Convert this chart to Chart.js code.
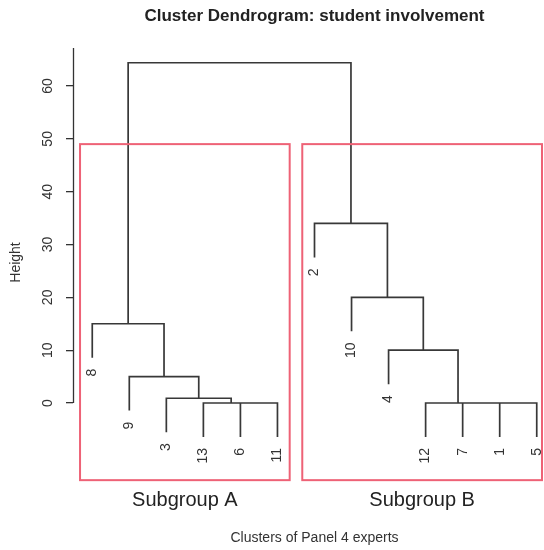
<!DOCTYPE html>
<html><head><meta charset="utf-8">
<script src="https://cdn.jsdelivr.net/npm/chart.js@4"></script>
<style>html,body{margin:0;padding:0;background:#fff;overflow:hidden}
#wrap{width:544px;height:550px;overflow:hidden;position:relative;background:#fff}
canvas{display:block}</style></head><body>
<div id="wrap"><canvas id="c" width="556" height="550"></canvas></div>
<script>
// ---- data ----
const leafLabels  = ['8','9','3','13','6','11','2','10','4','12','7','1','5'];
// R-style merge matrix: negative = leaf (by label), positive = earlier merge step
const mergeLeft   = [-6, -13, -1, -7, -12, -3, -9, -4, -8, -10, -2, 9];
const mergeRight  = [-11,  1, -5,  3,   4,  2,  6,  5,  7,   8, 10, 11];
const mergeHeight = [0, 0, 0, 0, 0, 0.9, 5, 10, 15, 20, 34, 64.4];
const yTickValues = [0, 10, 20, 30, 40, 50, 60];
const groupNames  = ['Subgroup A', 'Subgroup B'];
const groupLeaves = [['8','9','3','13','6','11'], ['2','10','4','12','7','1','5']];

// ---- build dendrogram segments from the merge data ----
const hang = 0.1 * Math.max(...mergeHeight);
const xOf = id => leafLabels.indexOf(String(id)) + 1;
const nodeX = [], nodeH = [], leafBottom = {};
const pts = [];
function child(c, h) {
  if (c < 0) { leafBottom[-c] = h - hang; return {x: xOf(-c), y: h - hang}; }
  return {x: nodeX[c - 1], y: nodeH[c - 1]};
}
mergeLeft.forEach((l, i) => {
  const h = mergeHeight[i];
  const a = child(l, h), b = child(mergeRight[i], h);
  nodeX[i] = (a.x + b.x) / 2; nodeH[i] = h;
  pts.push({x: a.x, y: a.y}, {x: a.x, y: h}, {x: b.x, y: h}, {x: b.x, y: b.y}, {x: b.x, y: null});
});

const FONT = 'Liberation Sans, Arial, Helvetica, sans-serif';
Chart.defaults.font.family = FONT;

const style = {
  axisTop: 67.2, labelGap: 11,
  boxTop: 49, boxBottom: -14.6, boxPad: 0.33,
  boxColor: 'rgb(238,98,118)', groupLabelGap: 20
};

const annot = {
  id: 'annot',
  afterDatasetsDraw(chart) {
    const {ctx, scales: {x, y}, chartArea} = chart;
    ctx.save();
    // y axis line (R style, only over tick range)
    ctx.strokeStyle = '#333'; ctx.lineWidth = 1.3;
    const ax = Math.round(chartArea.left) + 0.5;
    ctx.beginPath(); ctx.moveTo(ax, y.getPixelForValue(0)); ctx.lineTo(ax, y.getPixelForValue(style.axisTop)); ctx.stroke();
    // leaf labels, rotated
    ctx.fillStyle = '#333'; ctx.font = '14px ' + FONT;
    ctx.textAlign = 'right'; ctx.textBaseline = 'middle';
    leafLabels.forEach(lab => {
      const px = x.getPixelForValue(xOf(lab));
      const py = y.getPixelForValue(leafBottom[lab]) + style.labelGap;
      ctx.save(); ctx.translate(px, py); ctx.rotate(-Math.PI / 2); ctx.fillText(lab, 0, 0); ctx.restore();
    });
    // subgroup boxes
    groupLeaves.forEach((g, i) => {
      const xs = g.map(xOf);
      const x0 = x.getPixelForValue(Math.min(...xs) - style.boxPad);
      const x1 = Math.min(x.getPixelForValue(Math.max(...xs) + style.boxPad), 542);
      const y0 = y.getPixelForValue(style.boxTop), y1 = y.getPixelForValue(style.boxBottom);
      ctx.strokeStyle = style.boxColor; ctx.lineWidth = 2;
      ctx.strokeRect(x0, y0, x1 - x0, y1 - y0);
      ctx.fillStyle = '#222'; ctx.font = '20px ' + FONT;
      ctx.textAlign = 'center'; ctx.textBaseline = 'middle';
      ctx.fillText(groupNames[i], (x0 + x1) / 2, y1 + style.groupLabelGap);
    });
    ctx.restore();
  }
};

new Chart(document.getElementById('c'), {
  type: 'line',
  data: {datasets: [{data: pts, borderColor: '#383838', borderWidth: 1.7, pointRadius: 0, spanGaps: false, tension: 0, fill: false}]},
  options: {
    responsive: false, animation: false, events: [],
    layout: {padding: 0},
    plugins: {
      legend: {display: false}, tooltip: {enabled: false},
      title: {display: true, text: 'Cluster Dendrogram: student involvement', fullSize: false,
        font: {size: 17, weight: 'bold'}, color: '#222', padding: {top: 6.5, bottom: 3.1}}
    },
    scales: {
      x: {type: 'linear', min: 0.48, max: 13.52,
        ticks: {display: false}, grid: {display: false, drawTicks: false}, border: {display: false},
        title: {display: true, text: 'Clusters of Panel 4 experts', font: {size: 14}, color: '#333', padding: {top: 0, bottom: 3.6}},
        afterFit: s => { s.height = 55; }},
      y: {type: 'linear', min: -17.41, max: 70.6,
        afterBuildTicks: s => { s.ticks = yTickValues.map(v => ({value: v})); },
        ticks: {minRotation: 90, maxRotation: 90, crossAlign: 'center', padding: 10, color: '#333', font: {size: 14}},
        grid: {drawOnChartArea: false, drawTicks: true, tickLength: 7, color: '#333', lineWidth: 1.3},
        border: {display: false},
        title: {display: true, text: 'Height', font: {size: 14}, color: '#333', padding: {top: 7.6, bottom: 0}},
        afterFit: s => { s.width = 73; }}
    }
  },
  plugins: [annot]
});
</script></body></html>
